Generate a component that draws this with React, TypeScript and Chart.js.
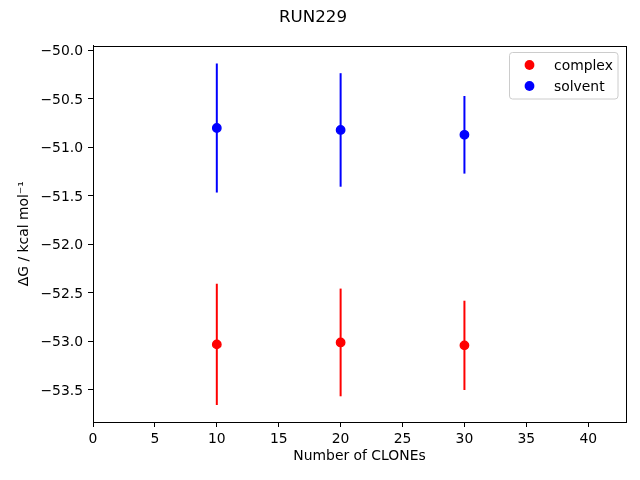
import React, { useEffect, useRef } from "react";
import { Chart, registerables } from "chart.js";

Chart.register(...registerables);

const clones = [10, 20, 30];
const complexDG = [-53.03, -53.01, -53.04];
const complexErr = [0.625, 0.555, 0.46];
const solventDG = [-50.8, -50.82, -50.87];
const solventErr = [0.665, 0.585, 0.4];
const xTicks = [0, 5, 10, 15, 20, 25, 30, 35, 40];
const yTicks = [-53.5, -53.0, -52.5, -52.0, -51.5, -51.0, -50.5, -50.0];
const xLimits = [0, 43.05];
const yLimits = [-53.83, -49.95];
const titleText = "RUN229";
const xLabel = "Number of CLONEs";
const yLabel = "ΔG / kcal mol⁻¹";

const FONT = "'DejaVu Sans', sans-serif";

export default function App() {
  const ref = useRef<HTMLCanvasElement>(null);

  useEffect(() => {
    const canvas = ref.current;
    if (!canvas) return;

    const errorBars = {
      id: "errorBars",
      beforeDatasetsDraw(chart: any) {
        const { ctx, scales } = chart;
        const x = scales.x;
        const y = scales.y;
        chart.data.datasets.forEach((ds: any) => {
          ctx.save();
          ctx.strokeStyle = ds.backgroundColor;
          ctx.lineWidth = 2;
          ds.data.forEach((p: any) => {
            const px = x.getPixelForValue(p.x);
            ctx.beginPath();
            ctx.moveTo(px, y.getPixelForValue(p.y - p.err));
            ctx.lineTo(px, y.getPixelForValue(p.y + p.err));
            ctx.stroke();
          });
          ctx.restore();
        });
      },
    };

    const frame = {
      id: "frame",
      afterDraw(chart: any) {
        const { ctx, chartArea } = chart;
        const l = Math.round(chartArea.left) + 0.5;
        const r = Math.round(chartArea.right) + 0.5;
        const t = Math.round(chartArea.top) + 0.5;
        const b = Math.round(chartArea.bottom) + 0.5;
        ctx.save();
        ctx.strokeStyle = "#000";
        ctx.lineWidth = 1;
        ctx.strokeRect(l, t, r - l, b - t);
        ctx.restore();

        // legend
        const bx = 509.5, by = 52.5, bw = 108.5, bh = 46.5;
        ctx.save();
        ctx.fillStyle = "rgba(255,255,255,0.8)";
        ctx.strokeStyle = "#cccccc";
        ctx.lineWidth = 1;
        ctx.beginPath();
        (ctx as any).roundRect(bx, by, bw, bh, 3);
        ctx.fill();
        ctx.stroke();
        ctx.font = `13.9px ${FONT}`;
        ctx.textBaseline = "middle";
        ctx.textAlign = "left";
        chart.data.datasets.forEach((ds: any, i: number) => {
          const cy = 65 + i * 21;
          ctx.fillStyle = ds.backgroundColor;
          ctx.beginPath();
          ctx.arc(529.5, cy, 4.9, 0, Math.PI * 2);
          ctx.fill();
          ctx.fillStyle = "#000";
          ctx.fillText(ds.label, 554, cy + 1);
        });
        ctx.restore();
      },
    };

    const mkData = (vals: number[], errs: number[]) =>
      clones.map((c, i) => ({ x: c, y: vals[i], err: errs[i] }));

    const fmt = (v: number, digits: number) => {
      const s = Math.abs(v).toFixed(digits);
      return v < 0 ? "\u2212" + s : s;
    };

    const chart = new Chart(canvas, {
      type: "scatter",
      data: {
        datasets: [
          {
            label: "complex",
            data: mkData(complexDG, complexErr),
            backgroundColor: "#ff0000",
            borderColor: "#ff0000",
            pointRadius: 4.2,
            pointBorderWidth: 1.4,
            pointHoverRadius: 4.2,
          },
          {
            label: "solvent",
            data: mkData(solventDG, solventErr),
            backgroundColor: "#0000ff",
            borderColor: "#0000ff",
            pointRadius: 4.2,
            pointBorderWidth: 1.4,
            pointHoverRadius: 4.2,
          },
        ],
      },
      options: {
        responsive: false,
        animation: false,
        devicePixelRatio: 1,
        events: [],
        layout: { padding: { left: 0, right: 14, top: 0, bottom: 0 } },
        plugins: {
          legend: { display: false },
          tooltip: { enabled: false },
          title: {
            display: true,
            text: titleText,
            color: "#000",
            font: { family: FONT, size: 16.7, weight: "normal" },
            padding: { top: 8, bottom: 17.5 },
          },
        },
        scales: {
          x: {
            type: "linear",
            min: xLimits[0],
            max: xLimits[1],
            afterBuildTicks: (s: any) => {
              s.ticks = xTicks.map((v) => ({ value: v }));
            },
            afterFit: (s: any) => {
              s.height = 58;
            },
            grid: {
              drawOnChartArea: false,
              drawTicks: true,
              tickLength: 5,
              tickColor: "#000",
            },
            border: { display: true, color: "#000", width: 1 },
            ticks: {
              color: "#000",
              font: { family: FONT, size: 13.9 },
              padding: 4,
              maxRotation: 0,
              autoSkip: false,
              callback: (v: any) => fmt(Number(v), 0),
            },
            title: {
              display: true,
              text: xLabel,
              color: "#000",
              font: { family: FONT, size: 13.9 },
              padding: { top: 0, bottom: 15 },
            },
          },
          y: {
            type: "linear",
            min: yLimits[0],
            max: yLimits[1],
            afterBuildTicks: (s: any) => {
              s.ticks = yTicks.map((v) => ({ value: v }));
            },
            afterFit: (s: any) => {
              s.width = 93;
            },
            grid: {
              drawOnChartArea: false,
              drawTicks: true,
              tickLength: 5,
              tickColor: "#000",
            },
            border: { display: true, color: "#000", width: 1 },
            ticks: {
              color: "#000",
              font: { family: FONT, size: 13.9 },
              padding: 5,
              labelOffset: 1,
              autoSkip: false,
              callback: (v: any) => fmt(Number(v), 1),
            },
            title: {
              display: true,
              text: yLabel,
              color: "#000",
              font: { family: FONT, size: 13.9 },
              padding: { top: 16, bottom: 0 },
            },
          },
        },
      },
      plugins: [errorBars, frame],
    } as any);

    return () => chart.destroy();
  }, []);

  return (
    <div style={{ position: "absolute", left: 0, top: 0, width: 640, height: 480, background: "#fff" }}>
      <canvas ref={ref} width={640} height={480} style={{ display: "block", width: 640, height: 480 }} />
    </div>
  );
}
